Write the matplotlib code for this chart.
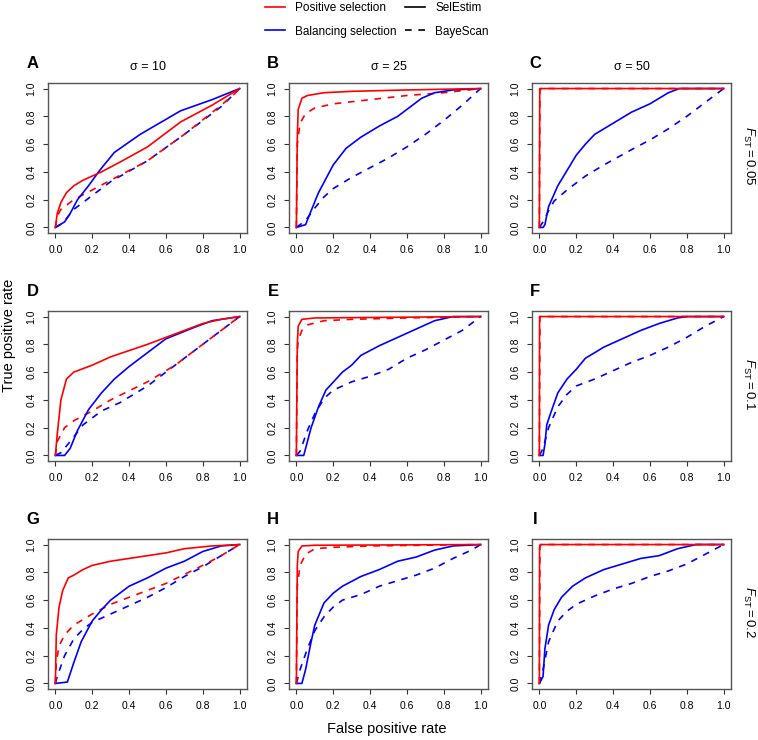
import matplotlib
matplotlib.use("Agg")
import matplotlib.pyplot as plt
from matplotlib.lines import Line2D

plt.rcParams['font.family'] = ['Liberation Sans', 'DejaVu Sans']
plt.rcParams['mathtext.fontset'] = 'custom'
plt.rcParams['mathtext.rm'] = 'Liberation Sans'
plt.rcParams['mathtext.it'] = 'Liberation Sans:italic'

# ROC curves: (false positive rate, true positive rate)
# panel letter -> SelEstim / BayeScan, positive (red) / balancing (blue)
A_pos_sel = [(0, 0), (0.01, 0.1), (0.03, 0.18), (0.06, 0.25), (0.1, 0.3), (0.15, 0.34),
             (0.2, 0.37), (0.25, 0.4), (0.35, 0.47), (0.5, 0.58), (0.68, 0.76), (0.85, 0.88), (1, 1)]
A_bal_sel = [(0, 0), (0.05, 0.04), (0.08, 0.1), (0.12, 0.2), (0.18, 0.3), (0.24, 0.41),
             (0.32, 0.54), (0.46, 0.67), (0.68, 0.84), (0.85, 0.92), (1, 1)]
A_pos_bay = [(0, 0), (0.01, 0.08), (0.03, 0.13), (0.1, 0.2), (0.2, 0.27), (0.3, 0.34),
             (0.5, 0.48), (0.7, 0.67), (0.9, 0.88), (0.97, 0.96), (1, 1)]
A_bal_bay = [(0, 0), (0.04, 0.03), (0.1, 0.13), (0.2, 0.23), (0.3, 0.33), (0.5, 0.48),
             (0.7, 0.67), (0.9, 0.87), (1, 1)]

B_pos_sel = [(0, 0), (0.005, 0.65), (0.01, 0.85), (0.03, 0.93), (0.06, 0.95), (0.15, 0.97),
             (0.3, 0.98), (0.6, 0.99), (1, 1)]
B_bal_sel = [(0, 0), (0.05, 0.02), (0.08, 0.12), (0.12, 0.25), (0.2, 0.45), (0.27, 0.57),
             (0.35, 0.65), (0.45, 0.73), (0.55, 0.8), (0.6, 0.85), (0.68, 0.93), (0.75, 0.97),
             (0.85, 0.99), (1, 1)]
B_pos_bay = [(0, 0), (0.005, 0.6), (0.02, 0.75), (0.05, 0.82), (0.1, 0.86), (0.2, 0.89),
             (0.4, 0.92), (0.6, 0.95), (0.8, 0.97), (1, 1)]
B_bal_bay = [(0, 0), (0.05, 0.05), (0.1, 0.14), (0.15, 0.22), (0.2, 0.28), (0.3, 0.36),
             (0.4, 0.43), (0.5, 0.5), (0.6, 0.58), (0.7, 0.67), (0.8, 0.77), (0.9, 0.88), (1, 1)]

C_pos_sel = [(0, 0), (0.002, 1.0), (1, 1)]
C_bal_sel = [(0, 0), (0.02, 0.0), (0.03, 0.02), (0.05, 0.15), (0.1, 0.3), (0.15, 0.41),
             (0.2, 0.52), (0.25, 0.6), (0.3, 0.67), (0.4, 0.75), (0.5, 0.83), (0.6, 0.89),
             (0.7, 0.97), (0.76, 1.0), (1, 1)]
C_pos_bay = [(0, 0), (0.003, 0.99), (0.01, 1.0), (1, 1)]
C_bal_bay = [(0, 0), (0.02, 0.04), (0.05, 0.12), (0.08, 0.19), (0.15, 0.27), (0.25, 0.37),
             (0.35, 0.45), (0.5, 0.56), (0.6, 0.63), (0.7, 0.71), (0.8, 0.8), (0.9, 0.9), (1, 1)]

D_pos_sel = [(0, 0), (0.01, 0.15), (0.03, 0.4), (0.06, 0.55), (0.1, 0.6), (0.2, 0.65),
             (0.3, 0.71), (0.5, 0.8), (0.6, 0.85), (0.8, 0.95), (0.9, 0.98), (1, 1)]
D_bal_sel = [(0, 0), (0.05, 0.0), (0.08, 0.05), (0.12, 0.18), (0.18, 0.33), (0.25, 0.45),
             (0.32, 0.55), (0.4, 0.64), (0.5, 0.74), (0.6, 0.84), (0.75, 0.92), (0.85, 0.97), (1, 1)]
D_pos_bay = [(0, 0), (0.01, 0.1), (0.05, 0.2), (0.1, 0.25), (0.2, 0.32), (0.3, 0.4),
             (0.5, 0.53), (0.65, 0.65), (0.8, 0.8), (0.9, 0.9), (1, 1)]
D_bal_bay = [(0, 0), (0.03, 0.02), (0.08, 0.1), (0.15, 0.22), (0.25, 0.32), (0.35, 0.38),
             (0.5, 0.5), (0.6, 0.6), (0.7, 0.7), (0.85, 0.85), (1, 1)]

E_pos_sel = [(0, 0), (0.005, 0.8), (0.01, 0.93), (0.03, 0.98), (0.1, 0.99), (1, 1)]
E_bal_sel = [(0, 0), (0.04, 0.0), (0.05, 0.05), (0.08, 0.2), (0.12, 0.35), (0.16, 0.47),
             (0.25, 0.6), (0.3, 0.65), (0.35, 0.72), (0.45, 0.79), (0.55, 0.85), (0.65, 0.91),
             (0.75, 0.97), (0.85, 1.0), (1, 1)]
E_pos_bay = [(0, 0), (0.005, 0.75), (0.01, 0.83), (0.03, 0.9), (0.06, 0.94), (0.15, 0.97),
             (0.3, 0.98), (0.6, 0.99), (1, 1)]
E_bal_bay = [(0, 0), (0.02, 0.03), (0.06, 0.18), (0.1, 0.3), (0.15, 0.41), (0.2, 0.47),
             (0.3, 0.53), (0.4, 0.57), (0.5, 0.62), (0.6, 0.7), (0.7, 0.76), (0.8, 0.83),
             (0.9, 0.9), (1, 1)]

F_pos_sel = [(0, 0), (0.001, 1.0), (1, 1)]
F_bal_sel = [(0, 0), (0.02, 0.0), (0.03, 0.08), (0.04, 0.22), (0.06, 0.3), (0.1, 0.45),
             (0.15, 0.55), (0.2, 0.62), (0.25, 0.7), (0.35, 0.78), (0.45, 0.84), (0.55, 0.9),
             (0.65, 0.95), (0.75, 0.99), (0.8, 1.0), (1, 1)]
F_pos_bay = [(0, 0), (0.003, 1.0), (1, 1)]
F_bal_bay = [(0, 0), (0.02, 0.05), (0.05, 0.2), (0.1, 0.35), (0.15, 0.44), (0.2, 0.5),
             (0.3, 0.55), (0.4, 0.61), (0.5, 0.67), (0.6, 0.72), (0.7, 0.78), (0.8, 0.85),
             (0.9, 0.93), (1, 1)]

G_pos_sel = [(0, 0), (0.005, 0.35), (0.02, 0.55), (0.04, 0.67), (0.07, 0.76), (0.1, 0.78),
             (0.15, 0.82), (0.2, 0.85), (0.3, 0.88), (0.4, 0.9), (0.5, 0.92), (0.6, 0.94),
             (0.7, 0.97), (0.85, 0.99), (1, 1)]
G_bal_sel = [(0, 0), (0.065, 0.01), (0.1, 0.15), (0.14, 0.3), (0.2, 0.45), (0.25, 0.53),
             (0.3, 0.6), (0.4, 0.7), (0.5, 0.76), (0.6, 0.83), (0.7, 0.88), (0.8, 0.95),
             (0.9, 0.99), (1, 1)]
G_pos_bay = [(0, 0), (0.005, 0.15), (0.02, 0.27), (0.05, 0.35), (0.1, 0.42), (0.2, 0.5),
             (0.3, 0.57), (0.4, 0.62), (0.6, 0.72), (0.8, 0.85), (0.9, 0.92), (1, 1)]
G_bal_bay = [(0, 0), (0.01, 0.05), (0.05, 0.2), (0.1, 0.32), (0.15, 0.39), (0.2, 0.44),
             (0.3, 0.5), (0.4, 0.56), (0.5, 0.62), (0.6, 0.69), (0.7, 0.77), (0.8, 0.84),
             (0.9, 0.92), (1, 1)]

H_pos_sel = [(0, 0), (0.005, 0.85), (0.01, 0.95), (0.03, 0.99), (0.1, 0.995), (1, 1)]
H_bal_sel = [(0, 0), (0.03, 0.0), (0.05, 0.1), (0.08, 0.3), (0.1, 0.42), (0.15, 0.58),
             (0.2, 0.65), (0.25, 0.7), (0.35, 0.77), (0.45, 0.82), (0.55, 0.88), (0.65, 0.91),
             (0.75, 0.96), (0.85, 0.99), (1, 1)]
H_pos_bay = [(0, 0), (0.005, 0.7), (0.02, 0.85), (0.05, 0.93), (0.1, 0.97), (0.2, 0.98),
             (0.4, 0.99), (1, 1)]
H_bal_bay = [(0, 0), (0.02, 0.1), (0.06, 0.25), (0.1, 0.38), (0.15, 0.48), (0.2, 0.55),
             (0.25, 0.6), (0.35, 0.64), (0.45, 0.7), (0.55, 0.74), (0.65, 0.78), (0.75, 0.83),
             (0.85, 0.9), (0.95, 0.96), (1, 1)]

I_pos_sel = [(0, 0), (0.001, 0.98), (0.005, 1.0), (1, 1)]
I_bal_sel = [(0, 0), (0.02, 0.05), (0.03, 0.25), (0.05, 0.42), (0.08, 0.53), (0.12, 0.62),
             (0.18, 0.7), (0.25, 0.76), (0.35, 0.82), (0.45, 0.86), (0.55, 0.9), (0.65, 0.92),
             (0.75, 0.97), (0.85, 1.0), (1, 1)]
I_pos_bay = [(0, 0), (0.003, 0.99), (0.01, 1.0), (1, 1)]
I_bal_bay = [(0, 0), (0.02, 0.1), (0.05, 0.3), (0.1, 0.45), (0.15, 0.52), (0.2, 0.57),
             (0.3, 0.63), (0.4, 0.68), (0.5, 0.72), (0.6, 0.77), (0.7, 0.81), (0.8, 0.86),
             (0.9, 0.93), (1, 1)]

panel_letters = ["A", "B", "C", "D", "E", "F", "G", "H", "I"]
sigma_labels = ["σ = 10", "σ = 25", "σ = 50"]
fst_labels = ["0.05", "0.1", "0.2"]
ticks = [0.0, 0.2, 0.4, 0.6, 0.8, 1.0]

curves = {
    "A": (A_pos_sel, A_bal_sel, A_pos_bay, A_bal_bay),
    "B": (B_pos_sel, B_bal_sel, B_pos_bay, B_bal_bay),
    "C": (C_pos_sel, C_bal_sel, C_pos_bay, C_bal_bay),
    "D": (D_pos_sel, D_bal_sel, D_pos_bay, D_bal_bay),
    "E": (E_pos_sel, E_bal_sel, E_pos_bay, E_bal_bay),
    "F": (F_pos_sel, F_bal_sel, F_pos_bay, F_bal_bay),
    "G": (G_pos_sel, G_bal_sel, G_pos_bay, G_bal_bay),
    "H": (H_pos_sel, H_bal_sel, H_pos_bay, H_bal_bay),
    "I": (I_pos_sel, I_bal_sel, I_pos_bay, I_bal_bay),
}

W, H = 758, 740
fig = plt.figure(figsize=(W / 100, H / 100), dpi=100)

col_left = [48, 289, 532]
letter_x = [33, 273, 535]
row_top = [83, 311, 539]
aw, ah = 199, 150
red, blue = "#ff0000", "#0000ff"
dash = (0, (4, 4))

for i in range(3):
    for j in range(3):
        letter = panel_letters[i * 3 + j]
        ax = fig.add_axes([col_left[j] / W, 1 - (row_top[i] + ah) / H, aw / W, ah / H])
        pos_sel, bal_sel, pos_bay, bal_bay = curves[letter]
        # BayeScan dashed first, SelEstim solid on top
        ax.plot(*zip(*bal_bay), color=blue, lw=1.2, linestyle=dash)
        ax.plot(*zip(*pos_bay), color=red, lw=1.2, linestyle=dash)
        ax.plot(*zip(*bal_sel), color=blue, lw=1.2)
        ax.plot(*zip(*pos_sel), color=red, lw=1.2)

        ax.set_xlim(-0.04, 1.04)
        ax.set_ylim(-0.04, 1.04)
        ax.set_xticks(ticks)
        ax.set_yticks(ticks)
        ax.set_xticklabels([f"{t:.1f}" for t in ticks], fontsize=7.5)
        ax.set_yticklabels([f"{t:.1f}" for t in ticks], fontsize=7.5, rotation=90, va="center")
        ax.tick_params(length=3.5, width=0.8, color="#333333", pad=5)
        for s in ax.spines.values():
            s.set_color("#555555")
            s.set_linewidth(1.0)

        fig.text(letter_x[j] / W, 1 - (row_top[i] - 20) / H, letter, fontsize=12,
                 fontweight="bold", ha="center", va="center")
        if i == 0:
            ax.text(0.5, 1 + 16 / ah, sigma_labels[j], transform=ax.transAxes, fontsize=9,
                    ha="center", va="center")
        if j == 2:
            fig.text(749 / W, 1 - (row_top[i] + ah / 2 - 2) / H,
                     r"$F_{\mathrm{ST}} = $" + fst_labels[i], rotation=-90,
                     ha="center", va="center", fontsize=9.5)

fig.text(9 / W, 1 - 335 / H, "True positive rate", rotation=90,
         ha="center", va="center", fontsize=10.5)
fig.text(387 / W, 1 - 729 / H, "False positive rate", ha="center", va="center", fontsize=10.5)

handles = [Line2D([], [], color=red, lw=1.2),
           Line2D([], [], color=blue, lw=1.2),
           Line2D([], [], color="black", lw=1.2),
           Line2D([], [], color="black", lw=1.2, linestyle=dash)]
labels = ["Positive selection", "Balancing selection", "SelEstim", "BayeScan"]
fig.legend(handles, labels, ncol=2, loc="upper center", bbox_to_anchor=(377 / W, 1.012),
           frameon=False, fontsize=8.5, handlelength=1.7, handletextpad=0.85,
           columnspacing=0.7, labelspacing=1.0)

fig.savefig("out.png", dpi=100)
